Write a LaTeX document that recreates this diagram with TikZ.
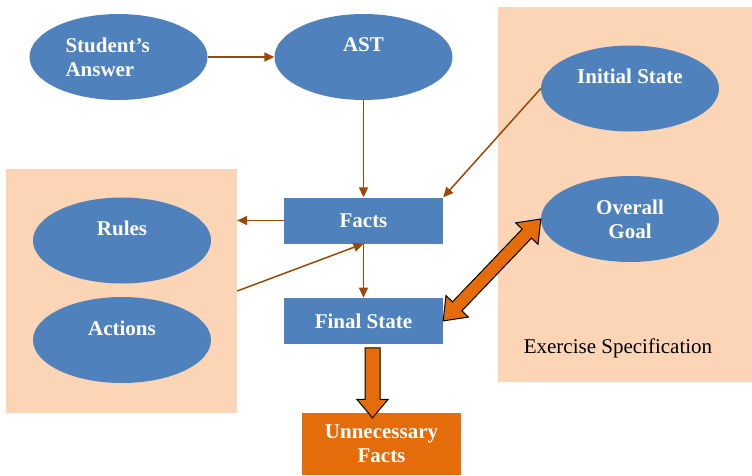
\documentclass[tikz,border=0pt]{standalone}
\usepackage{fontspec}
\setmainfont{Liberation Serif}
\usetikzlibrary{shapes,arrows.meta,positioning,calc}

\definecolor{peach}{RGB}{251,213,181}
\definecolor{nodeblue}{RGB}{79,129,189}
\definecolor{burnt}{RGB}{228,108,10}
\definecolor{brownline}{RGB}{152,72,7}

\begin{document}
\begin{tikzpicture}[%
    x=1pt, y=-1pt,              % one unit is one pixel of the layout
    >={Triangle[length=10pt,width=9pt]},
    font=\fontsize{21}{24}\selectfont\bfseries,
    ]
% -------------------------------------------------
% A few box styles
\tikzset{
  grp/.style={fill=peach, inner sep=0pt},
  ell/.style={ellipse, fill=nodeblue, text=white, align=center,
              minimum width=178pt, minimum height=86pt, inner sep=0pt},
  hi/.style={text depth=24pt},   % single line sits high in the ellipse
  box/.style={rectangle, fill=nodeblue, text=white, align=center,
              minimum width=159pt, minimum height=46pt},
  outbox/.style={box, fill=burnt, minimum height=62pt},
  % Connector line styles
  to/.style={->, draw=brownline, line width=1.5pt},
  blk/.style={draw=black, fill=burnt, line width=1pt}
}
\useasboundingbox (0,0) rectangle (752,475);
% -------------------------------------------------
% Background groups
\node [grp, minimum width=231pt, minimum height=244pt] (lgrp) at (121.5,291) {};
\node [grp, minimum width=254pt, minimum height=375pt] (rgrp) at (625,194.5) {};
\node [font=\fontsize{21}{24}\selectfont] (spec) at (618,348) {Exercise Specification};

% Start by placing the nodes
\node [ell, align=left, text width=106pt] (sa) at (118.5,57) {Student's\\Answer};
\node [ell, hi] (ast) at (363.5,57) {AST};
\node [ell, hi] (is) at (630,88.5) {Initial State};
\node [ell] (og) at (630,219) {Overall\\Goal};
\node [ell, hi] (rules) at (122,240.5) {Rules};
\node [ell, hi] (act) at (122,340) {Actions};
\node [box] (facts) at (363.5,220.5) {Facts};
\node [box, below = 54pt of facts] (fs) {Final State};
\node [outbox] (uf) at (381.5,444) {Unnecessary\\Facts};

\draw[to] (sa) to (ast);
\draw[to] (ast) to (facts);
\draw[to] (is.west) to (facts.north east);
\draw[to] (facts.west) to (facts.west -| lgrp.east);
\draw[to] (lgrp.east) to (facts.south);
\draw[to] (facts) to (fs);

% Block arrows
\path (fs.south) -- (uf.north)
  node [blk, midway, single arrow, rotate=-90, minimum height=70pt,
        inner sep=7pt, minimum width=30pt, single arrow head extend=8pt,
        single arrow tip angle=80] (down) {};
\path let \p1=($(og.west)-(fs.east)$), \n1={atan2(\y1,\x1)},
          \n2={veclen(\x1,\y1)} in
  node [blk, double arrow, rotate=\n1, minimum height=\n2,
        inner sep=6pt, minimum width=30pt, double arrow head extend=9pt,
        double arrow tip angle=75]
        (both) at ($(fs.east)!.5!(og.west)$) {};
% -------------------------------------------------
\end{tikzpicture}
\end{document}
